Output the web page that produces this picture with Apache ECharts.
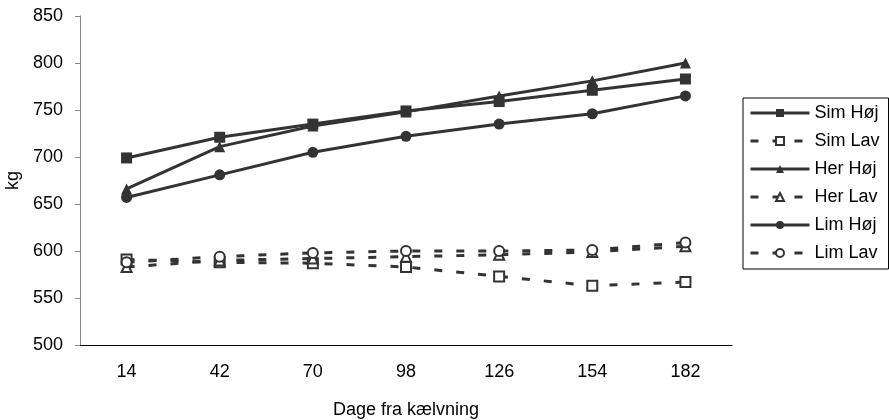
<!DOCTYPE html>
<html><head><meta charset="utf-8">
<script src="https://cdn.jsdelivr.net/npm/echarts@6/dist/echarts.min.js"></script>
<style>html,body{margin:0;padding:0;background:#fff}#c{width:889px;height:420px}</style>
</head><body><div id="c"></div>
<script>
const categories = ['14','42','70','98','126','154','182'];
const simHoj = [699, 721, 735, 749, 759, 771, 783];
const simLav = [591, 588, 587, 583, 573, 563, 567];
const herHoj = [666, 711, 733, 748, 765, 781, 800];
const herLav = [583, 590, 592, 594, 596, 599, 605];
const limHoj = [657, 681, 705, 722, 735, 746, 765];
const limLav = [588, 594, 598, 600, 600, 601, 609];
const names = ['Sim Høj','Sim Lav','Her Høj','Her Lav','Lim Høj','Lim Lav'];
const dataSets = [simHoj, simLav, herHoj, herLav, limHoj, limLav];
const symbols = ['rect','emptyRect','triangle','emptyTriangle','circle','emptyCircle'];
const col = '#333';
const series = names.map((n,i)=>({
  name:n, type:'line', data:dataSets[i], symbol:symbols[i],
  showSymbol:true, showAllSymbol:true,
  symbolSize: i%2===0 ? 11 : 10,
  lineStyle:{color:col,width:3,type: i%2===0 ? 'solid' : [8,14]},
  itemStyle:{color:col, borderColor:col, borderWidth: i%2===0?0:1.5},
  z: i%2===0 ? 3 : 2
}));
const chart = echarts.init(document.getElementById('c'));
chart.setOption({
  animation:false,
  textStyle:{fontFamily:'Liberation Sans, Arial, sans-serif'},
  grid:{left:80,right:157,top:16,bottom:75,outerBoundsMode:'none',containLabel:false},
  xAxis:{type:'category',data:categories,boundaryGap:true,
    name:'Dage fra kælvning',nameLocation:'middle',nameGap:56,
    nameTextStyle:{fontSize:18,color:'#000'},
    axisLine:{lineStyle:{color:'#000',width:1}},
    axisTick:{alignWithLabel:false,length:6,lineStyle:{color:'#000'}},
    axisLabel:{fontSize:18,color:'#000',margin:18}},
  yAxis:{type:'value',min:500,max:850,interval:50,
    name:'kg',nameLocation:'middle',nameGap:52,nameRotate:90,
    nameTextStyle:{fontSize:18,color:'#000'},
    axisLine:{show:true,lineStyle:{color:'#888'}},
    axisTick:{show:true,length:5,lineStyle:{color:'#888'}},
    splitLine:{show:false},
    axisLabel:{fontSize:18,color:'#000',margin:17}},
  legend:{orient:'vertical',left:743,top:98,itemWidth:59,itemHeight:10,itemGap:8,
    padding:[5,9,6,6],borderColor:'#000',borderWidth:1,
    lineStyle:{width:3},
    textStyle:{fontSize:18,color:'#000',lineHeight:20},data:names},
  series:series
});
</script></body></html>
